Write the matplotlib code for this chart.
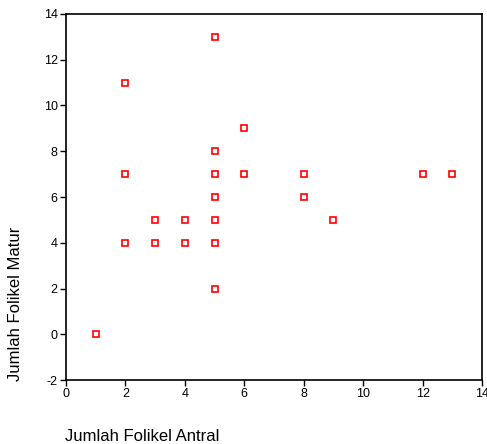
import matplotlib.pyplot as plt

plt.rcParams['font.family'] = ['Liberation Sans', 'DejaVu Sans']
plt.rcParams['axes.unicode_minus'] = False

# Jumlah folikel antral (x) vs jumlah folikel matur (y)
antral = [1, 2, 2, 2, 3, 3, 4, 4, 5, 5, 5, 5, 5, 5, 5, 6, 6, 8, 8, 9, 12, 13]
matur = [0, 11, 7, 4, 5, 4, 5, 4, 13, 8, 7, 6, 5, 4, 2, 9, 7, 7, 6, 5, 7, 7]

x_ticks = [0, 2, 4, 6, 8, 10, 12, 14]
y_ticks = [-2, 0, 2, 4, 6, 8, 10, 12, 14]

fig = plt.figure(figsize=(4.87, 4.44), dpi=100)
ax = fig.add_axes([66 / 487, 1 - 380 / 444, (482 - 66) / 487, (380 - 14) / 444])

ax.plot(antral, matur, linestyle="none", marker="s", markersize=4.5,
        markerfacecolor="white", markeredgecolor="red", markeredgewidth=1.2)

ax.set_xlim(0, 14)
ax.set_ylim(-2, 14)
ax.set_xticks(x_ticks)
ax.set_yticks(y_ticks)
ax.tick_params(direction="out", length=4, width=1, labelsize=9, pad=2)

for side in ["left", "bottom", "top", "right"]:
    ax.spines[side].set_linewidth(1.2)

fig.text(65 / 487, 1 - 436 / 444, "Jumlah Folikel Antral", fontsize=12,
         ha="left", va="center")
fig.text(16 / 487, 1 - 381 / 444, "Jumlah Folikel Matur", fontsize=12,
         rotation=90, ha="center", va="bottom")

fig.savefig("out.png", dpi=100)
